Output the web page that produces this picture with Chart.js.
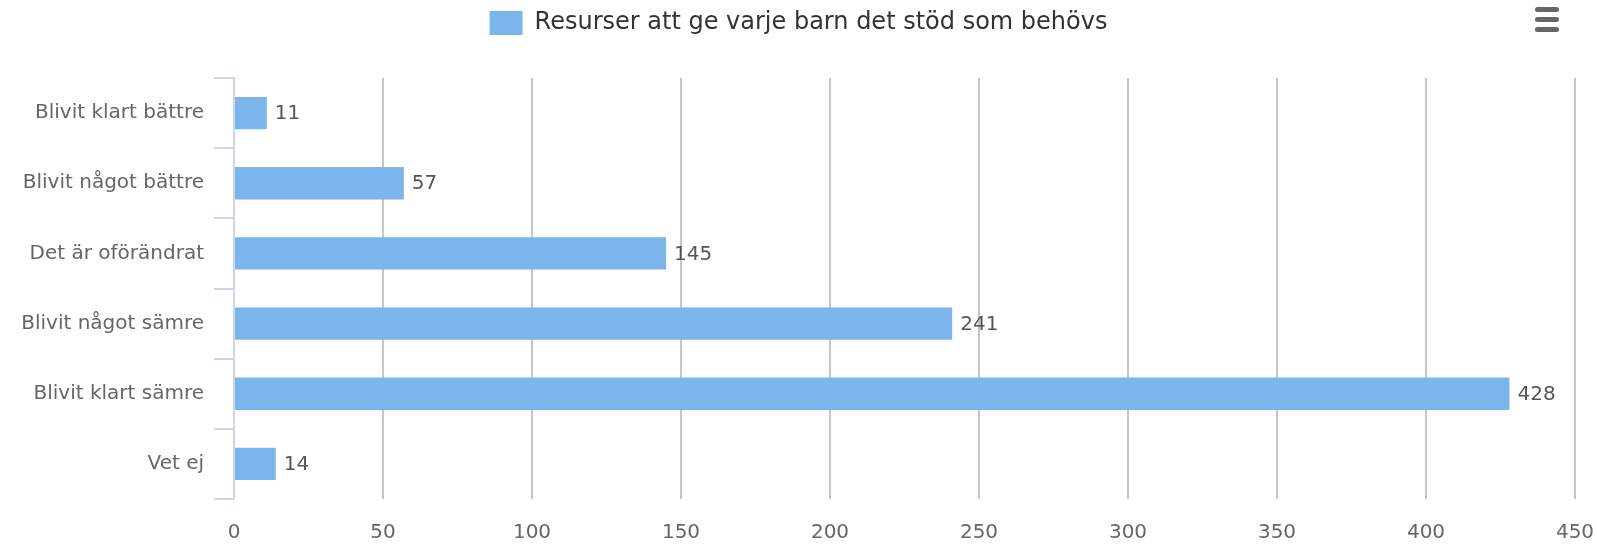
<!DOCTYPE html>
<html>
<head>
<meta charset="utf-8">
<script src="https://cdn.jsdelivr.net/npm/chart.js@4.4.1/dist/chart.umd.min.js"></script>
<style>
  html, body { margin: 0; padding: 0; background: #fff; overflow: hidden; }
  #wrap { width: 1597px; height: 544px; position: relative; }
  #wrap canvas { display: block; }
</style>
</head>
<body>
<div id="wrap"><canvas id="chart"></canvas></div>
<script>
const categories = ['Blivit klart bättre', 'Blivit något bättre', 'Det är oförändrat', 'Blivit något sämre', 'Blivit klart sämre', 'Vet ej'];
const values = [11, 57, 145, 241, 428, 14];
const seriesName = 'Resurser att ge varje barn det stöd som behövs';
const xMin = 0;
const xMax = 450;
const xStep = 50;

const FONT = "'DejaVu Sans', 'Lucida Grande', Arial, sans-serif";

// push the plot down below the legend
const legendGap = {
  id: 'legendGap',
  beforeLayout(chart) {
    const lg = chart.legend;
    if (!lg || lg._gapPatched) return;
    const fit = lg.fit;
    lg.fit = function () { fit.call(this); this.height = 78; };
    lg._gapPatched = true;
  }
};

// value labels at the end of each bar
const barValues = {
  id: 'barValues',
  afterDatasetsDraw(chart) {
    const ctx = chart.ctx;
    const meta = chart.getDatasetMeta(0);
    ctx.save();
    ctx.font = '20px ' + FONT;
    ctx.fillStyle = '#555';
    ctx.textAlign = 'left';
    ctx.textBaseline = 'middle';
    meta.data.forEach((bar, i) => {
      ctx.fillText(String(chart.data.datasets[0].data[i]), bar.x + 8, bar.y + 1);
    });
    ctx.restore();
  }
};

// the little menu icon up in the right corner
const menuIcon = {
  id: 'menuIcon',
  afterDraw(chart) {
    const ctx = chart.ctx;
    ctx.save();
    ctx.strokeStyle = '#666';
    ctx.lineWidth = 5;
    ctx.lineCap = 'round';
    [9.5, 19.5, 29.5].forEach(y => {
      ctx.beginPath();
      ctx.moveTo(1537.5, y);
      ctx.lineTo(1556.5, y);
      ctx.stroke();
    });
    ctx.restore();
  }
};

new Chart(document.getElementById('chart'), {
  type: 'bar',
  data: {
    labels: categories,
    datasets: [{
      label: seriesName,
      data: values,
      backgroundColor: '#7cb5ec',
      borderWidth: 0,
      categoryPercentage: 0.46,
      barPercentage: 1
    }]
  },
  options: {
    indexAxis: 'y',
    responsive: true,
    maintainAspectRatio: false,
    animation: false,
    layout: { padding: 0 },
    plugins: {
      legend: {
        position: 'top',
        labels: {
          font: { family: FONT, size: 24 },
          color: '#333',
          boxWidth: 33,
          boxHeight: 24,
          padding: 11
        }
      },
      tooltip: { enabled: false }
    },
    scales: {
      x: {
        min: xMin,
        max: xMax,
        ticks: { stepSize: xStep, color: '#666', font: { family: FONT, size: 20 }, padding: 22 },
        grid: {
          color: c => c.index === 0 ? 'rgba(0,0,0,0)' : '#c6c6c6',
          lineWidth: 2,
          drawTicks: false
        },
        border: { display: false },
        afterFit(scale) {
          scale.height = 45;
          scale.paddingLeft = 0;
          scale.paddingRight = 22;
        }
      },
      y: {
        offset: true,
        ticks: { color: '#666', font: { family: FONT, size: 20 }, padding: 10 },
        grid: {
          offset: true,
          drawOnChartArea: false,
          tickLength: 20,
          color: '#ccd6eb',
          lineWidth: 2
        },
        border: { color: '#ccd6eb', width: 2 },
        afterFit(scale) {
          scale.width = 234;
          scale.paddingTop = 0;
          scale.paddingBottom = 0;
        }
      }
    }
  },
  plugins: [legendGap, barValues, menuIcon]
});
</script>
</body>
</html>
